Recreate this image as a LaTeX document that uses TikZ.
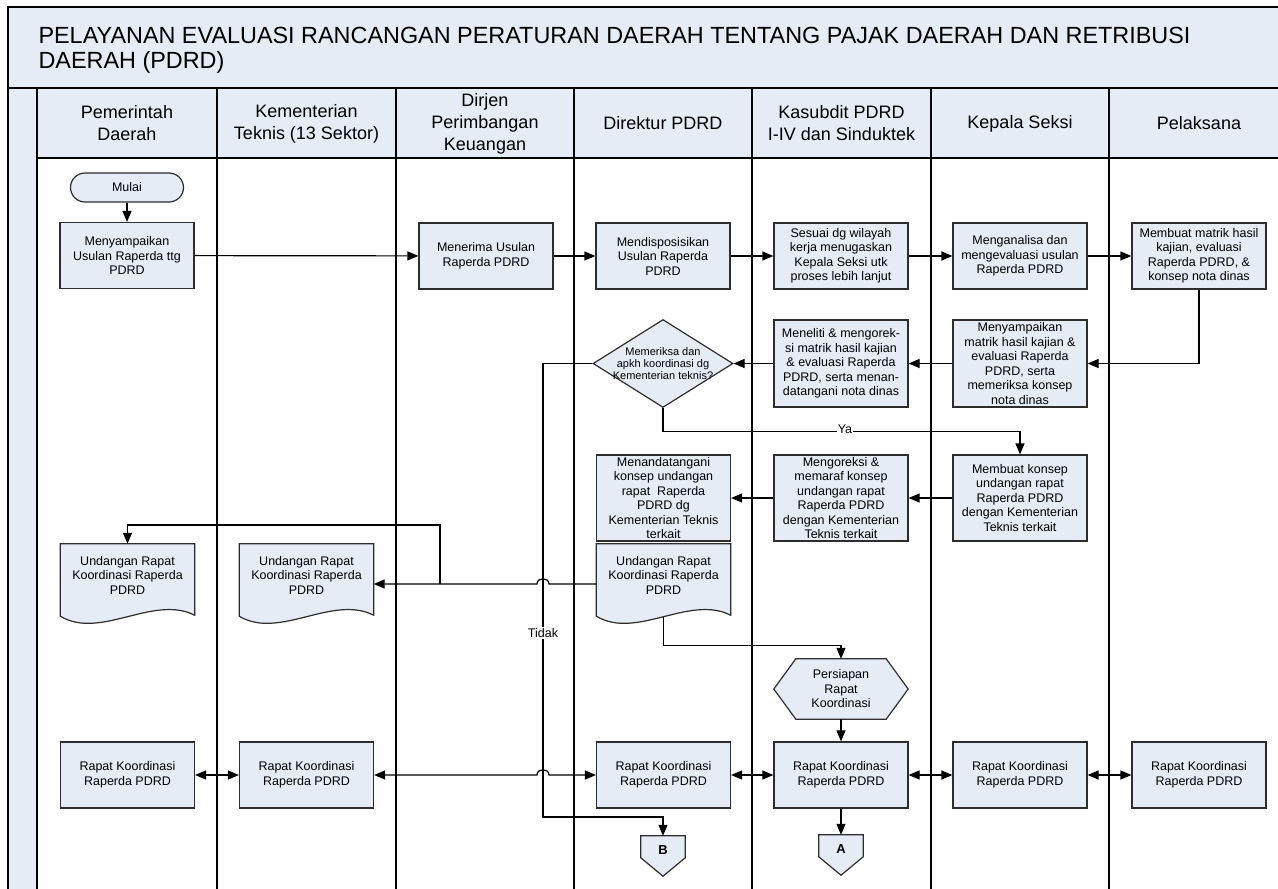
\documentclass[tikz,border=0pt]{standalone}
\usepackage{fontspec}
\setmainfont{Liberation Sans}
\usetikzlibrary{arrows.meta,shapes.geometric,calc,backgrounds}
\definecolor{boxfill}{RGB}{230,236,246}
\definecolor{boxline}{RGB}{45,45,45}
\tikzset{
  >={Triangle[length=11pt,width=9pt]},
  lane/.style={draw=black, line width=1.3pt},
  proc/.style={draw=boxline, fill=boxfill, line width=1.2pt, minimum width=134pt,
    minimum height=66pt, inner xsep=1pt, inner ysep=1pt, align=center,
    font=\fontsize{12.5}{14.5}\selectfont},
  term/.style={draw=boxline, fill=boxfill, line width=1.2pt, minimum width=113pt,
    minimum height=29pt, rounded corners=14.5pt, font=\fontsize{12.5}{14.5}\selectfont},
  dia/.style={diamond, draw=boxline, fill=boxfill, line width=1.2pt, minimum width=140pt,
    minimum height=88pt, inner sep=0pt},
  diatext/.style={align=center, font=\fontsize{11}{12}\selectfont},
  doc/.style={minimum width=134pt, minimum height=80pt, inner sep=0pt},
  doctext/.style={align=center, font=\fontsize{12.5}{14.5}\selectfont, yshift=9pt},
  shapeline/.style={draw=boxline, fill=boxfill, line width=1.2pt},
  prep/.style={minimum width=134pt, minimum height=60pt, inner sep=0pt, align=center,
    font=\fontsize{12.5}{14.5}\selectfont},
  offpage/.style={minimum width=44pt, minimum height=40pt, inner sep=0pt},
  offtext/.style={font=\fontsize{13}{15}\selectfont\bfseries, yshift=6pt},
  conn/.style={draw=black, line width=1.2pt, ->},
  biconn/.style={draw=black, line width=1.2pt, <->},
  lbl/.style={fill=white, inner sep=1pt, font=\fontsize{12.5}{14.5}\selectfont},
  head/.style={align=center, font=\fontsize{18}{22}\selectfont},
}
\begin{document}
\begin{tikzpicture}[x=1pt,y=-1pt]
\useasboundingbox (0,0) rectangle (1278,889);
\begin{scope}[on background layer]
\fill[white] (0,0) rectangle (1278,889);
\end{scope}
\clip (0,0) rectangle (1278,889);
% title band and lanes
\fill[boxfill] (8,7) rectangle (1300,88);
\fill[boxfill] (37,88) rectangle (1300,158);
\fill[boxfill] (8,88) rectangle (37,900);
\draw[lane] (1300,7) -- (8,7) -- (8,900);
\draw[draw=black, line width=2pt] (8,88) -- (1300,88);
\draw[lane] (37,158) -- (1300,158);
\foreach \x in {37,217,396,574,752,931,1109}
  \draw[lane] (\x,88) -- (\x,900);
\node[anchor=west, align=left, font=\fontsize{23.4}{25}\selectfont] (title) at (35,50.5)
  {PELAYANAN EVALUASI RANCANGAN PERATURAN DAERAH TENTANG PAJAK DAERAH DAN RETRIBUSI\\DAERAH (PDRD)};
\node[head] (h1) at (127,123.5) {Pemerintah\\Daerah};
\node[head] (h2) at (306.5,123.5) {Kementerian\\Teknis (13 Sektor)};
\node[head] (h3) at (485,123.5) {Dirjen\\Perimbangan\\Keuangan};
\node[head] (h4) at (663,123.5) {Direktur PDRD};
\node[head] (h5) at (841.5,123.5) {Kasubdit PDRD\\I-IV dan Sinduktek};
\node[head] (h6) at (1020,123.5) {Kepala Seksi};
\node[head] (h7) at (1199,123.5) {Pelaksana};
% row 1
\node[term] (mulai) at (127,187.5) {Mulai};
\node[proc] (s1) at (127,255.5) {Menyampaikan\\Usulan Raperda ttg\\PDRD};
\node[proc] (s2) at (486,256) {Menerima Usulan\\Raperda PDRD};
\node[proc] (s3) at (663,256) {Mendisposisikan\\Usulan Raperda\\PDRD};
\node[proc] (s4) at (841,256) {Sesuai dg wilayah\\kerja menugaskan\\Kepala Seksi utk\\proses lebih lanjut};
\node[proc] (s5) at (1020,256) {Menganalisa dan\\mengevaluasi usulan\\Raperda PDRD};
\node[proc] (s6) at (1199,256) {Membuat matrik hasil\\kajian, evaluasi\\Raperda PDRD, \&\\konsep nota dinas};
% row 2
\node[proc, minimum height=87pt] (s7) at (1020,363.5) {Menyampaikan\\matrik hasil kajian \&\\evaluasi Raperda\\PDRD, serta\\memeriksa konsep\\nota dinas};
\node[proc, minimum height=87pt] (s8) at (841,363.5) {Meneliti \& mengorek-\\si matrik hasil kajian\\\& evaluasi Raperda\\PDRD, serta menan-\\datangani nota dinas};
\node[dia, label={[diatext]center:{Memeriksa dan\\apkh koordinasi dg\\Kementerian teknis?}}] (d1) at (663,363.5) {};
% row 3
\node[proc, minimum height=86pt] (s9) at (1020,498) {Membuat konsep\\undangan rapat\\Raperda PDRD\\dengan Kementerian\\Teknis terkait};
\node[proc, minimum height=86pt] (s10) at (841,498) {Mengoreksi \&\\memaraf konsep\\undangan rapat\\Raperda PDRD\\dengan Kementerian\\Teknis terkait};
\node[proc, minimum height=86pt] (s11) at (663.5,498) {Menandatangani\\konsep undangan\\rapat~~Raperda\\PDRD dg\\Kementerian Teknis\\terkait};
% documents
\node[doc, label={[doctext]center:{Undangan Rapat\\Koordinasi Raperda\\PDRD}}] (docD) at (663.5,584) {};
\node[doc, label={[doctext]center:{Undangan Rapat\\Koordinasi Raperda\\PDRD}}] (docP) at (127.5,584) {};
\node[doc, label={[doctext]center:{Undangan Rapat\\Koordinasi Raperda\\PDRD}}] (docK) at (306.5,584) {};
% preparation
\node[prep] (prep) at (841,689) {Persiapan\\Rapat\\Koordinasi};
% rapat row
\node[proc] (r1) at (127.5,775) {Rapat Koordinasi\\Raperda PDRD};
\node[proc] (r2) at (306.5,775) {Rapat Koordinasi\\Raperda PDRD};
\node[proc] (r3) at (663.5,775) {Rapat Koordinasi\\Raperda PDRD};
\node[proc] (r4) at (841,775) {Rapat Koordinasi\\Raperda PDRD};
\node[proc] (r5) at (1020,775) {Rapat Koordinasi\\Raperda PDRD};
\node[proc] (r6) at (1199,775) {Rapat Koordinasi\\Raperda PDRD};
% off-page connectors
\node[offpage, label={[offtext]center:B}] (B) at (663,856) {};
\node[offpage, label={[offtext]center:A}] (A) at (841,855) {};
% custom shapes on background (above the white page fill)
\begin{scope}[on background layer]
\foreach \d in {docD,docP,docK}{
  \path[shapeline] (\d.north west) -- ($(\d.south west)+(0,-8)$)
    .. controls ($(\d.south west)+(40,16)$) and ($(\d.south west)+(93,-30)$) ..
    ($(\d.south east)+(0,-9)$) -- (\d.north east) -- cycle;
}
\path[shapeline] (prep.west) -- ($(prep.north west)+(22,0)$) -- ($(prep.north east)+(-22,0)$)
  -- (prep.east) -- ($(prep.south east)+(-22,0)$) -- ($(prep.south west)+(22,0)$) -- cycle;
\foreach \o in {A,B}{
  \path[shapeline] (\o.north west) -- (\o.north east) -- ($(\o.north east)+(0,22)$)
    -- (\o.south) -- ($(\o.north west)+(0,22)$) -- cycle;
}
\end{scope}
% connectors
\draw[conn] (mulai) -- (s1);
\draw[conn] (s1) -- (s2);
\draw[conn] (s2) -- (s3);
\draw[conn] (s3) -- (s4);
\draw[conn] (s4) -- (s5);
\draw[conn] (s5) -- (s6);
\draw[conn] (s6.south) |- (s7.east);
\draw[conn] (s7) -- (s8);
\draw[conn] (s8) -- (d1.east);
\draw[conn] (d1.west) -| (543,817) -| (B.north);
\node[lbl] (tidak) at (543,633) {Tidak};
\draw[conn] (d1.south) -- ++(0,23) -| (s9.north);
\node[lbl] (ya) at (845,429.5) {Ya};
\draw[conn] (s9) -- (s10);
\draw[conn] (s10) -- (s11);
\draw[conn] (docD.west) -- (549,584) .. controls (549,577) and (537,577) .. (537,584) -- (docK.east);
\coordinate (br) at (440,584);
\draw[conn] (br) -- ++(0,-59) -| (docP.north);
\draw[conn] ($(docD.south)+(0,-7)$) -- ++(0,28) -| (prep.north);
\draw[conn] (prep) -- (r4);
\draw[conn] (r4) -- (A);
\draw[biconn] (r1) -- (r2);
\draw[biconn] (r2.east) -- (537,775) .. controls (537,768) and (549,768) .. (549,775) -- (r3.west);
\draw[biconn] (r3) -- (r4);
\draw[biconn] (r4) -- (r5);
\draw[biconn] (r5) -- (r6);
\end{tikzpicture}
\end{document}
